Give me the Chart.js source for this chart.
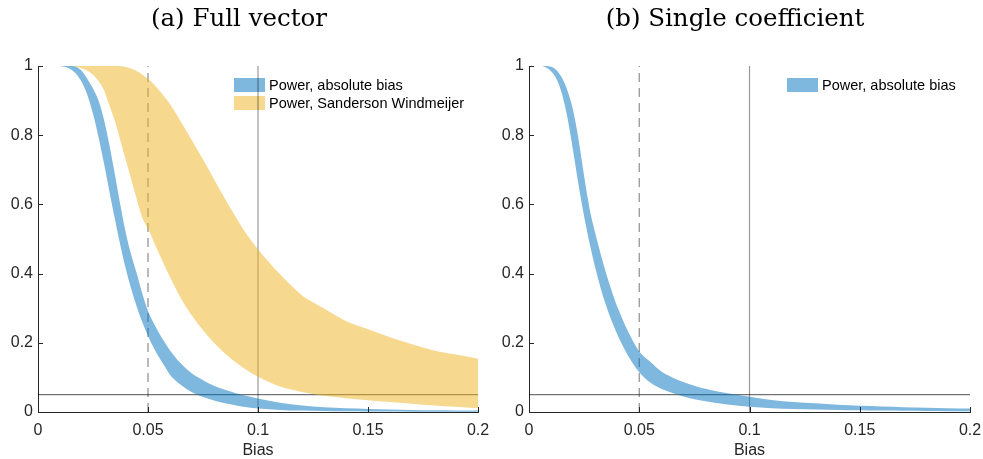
<!DOCTYPE html>
<html>
<head>
<meta charset="utf-8">
<script src="https://cdn.jsdelivr.net/npm/chart.js@4.4.0/dist/chart.umd.min.js"></script>
<style>
  html, body { margin: 0; padding: 0; background: #ffffff; }
  #wrap { position: relative; width: 983px; height: 459px; overflow: hidden; }
  #c1 { position: absolute; left: 0; top: 0; }
  #c2 { position: absolute; left: 500px; top: 0; }
</style>
</head>
<body>
<div id="wrap">
  <canvas id="c1" width="490" height="459"></canvas>
  <canvas id="c2" width="483" height="459"></canvas>
</div>
<script>
// ---------------- data ----------------
const xTickValues = [0, 0.05, 0.1, 0.15, 0.2];
const xTickLabels = ['0', '0.05', '0.1', '0.15', '0.2'];
const yTickValues = [0, 0.2, 0.4, 0.6, 0.8, 1];
const yTickLabels = ['0', '0.2', '0.4', '0.6', '0.8', '1'];

const powerThreshold = 0.05;      // horizontal reference line
const dashedBias = 0.05;          // vertical dashed reference line
const solidBias = 0.1;            // vertical solid reference line

// (a) Full vector - absolute bias band
const biasA = [0.010,0.0125,0.015,0.0175,0.020,0.0225,0.025,0.0275,0.030,0.0325,0.035,0.0375,0.040,0.0425,0.045,0.0475,0.050,0.0525,0.055,0.0575,0.060,0.065,0.070,0.075,0.080,0.085,0.090,0.095,0.100,0.110,0.120,0.130,0.140,0.150,0.160,0.170,0.180,0.190,0.200];
const absUpperA = [1,1,1,0.997,0.985,0.962,0.935,0.900,0.845,0.770,0.685,0.596,0.515,0.451,0.398,0.340,0.292,0.258,0.228,0.202,0.178,0.140,0.111,0.092,0.076,0.064,0.054,0.046,0.039,0.027,0.019,0.014,0.011,0.009,0.007,0.006,0.005,0.0045,0.004];
const absLowerA = [1,0.997,0.990,0.976,0.952,0.915,0.862,0.795,0.718,0.636,0.556,0.480,0.412,0.353,0.302,0.258,0.220,0.187,0.158,0.133,0.108,0.078,0.057,0.043,0.033,0.025,0.019,0.014,0.010,0.006,0.004,0.003,0.002,0.0015,0.0012,0.001,0.0008,0.0006,0.0005];

// (a) Full vector - Sanderson Windmeijer band
const biasSW = [0.012,0.015,0.0175,0.020,0.0225,0.025,0.0275,0.030,0.0325,0.035,0.0375,0.040,0.0425,0.045,0.0475,0.050,0.055,0.060,0.065,0.070,0.075,0.080,0.085,0.090,0.095,0.100,0.105,0.110,0.115,0.120,0.125,0.130,0.140,0.150,0.160,0.170,0.180,0.190,0.200];
const swUpper = [1,1,1,1,1,1,1,1,1,1,0.999,0.997,0.992,0.985,0.975,0.963,0.930,0.890,0.838,0.785,0.730,0.673,0.616,0.562,0.512,0.470,0.433,0.398,0.366,0.337,0.317,0.299,0.263,0.239,0.216,0.196,0.178,0.166,0.154];
const swLower = [1,0.999,0.997,0.993,0.986,0.975,0.957,0.930,0.885,0.840,0.783,0.726,0.670,0.613,0.560,0.530,0.458,0.390,0.328,0.278,0.236,0.200,0.169,0.143,0.121,0.102,0.087,0.074,0.065,0.058,0.052,0.047,0.040,0.034,0.029,0.024,0.019,0.015,0.011];

// (b) Single coefficient - absolute bias band
const biasB = [0.006,0.008,0.010,0.0125,0.015,0.0175,0.020,0.0225,0.025,0.0275,0.030,0.0325,0.035,0.0375,0.040,0.045,0.050,0.055,0.060,0.065,0.070,0.075,0.080,0.090,0.100,0.110,0.120,0.130,0.140,0.150,0.160,0.170,0.180,0.190,0.200];
const absUpperB = [1,1,0.998,0.988,0.965,0.928,0.872,0.787,0.682,0.587,0.518,0.457,0.400,0.350,0.305,0.232,0.175,0.145,0.117,0.100,0.087,0.076,0.067,0.054,0.044,0.035,0.029,0.025,0.021,0.018,0.016,0.014,0.012,0.011,0.010];
const absLowerB = [1,0.995,0.985,0.962,0.918,0.848,0.755,0.655,0.565,0.487,0.418,0.358,0.307,0.263,0.225,0.162,0.115,0.085,0.067,0.055,0.045,0.037,0.031,0.022,0.015,0.011,0.009,0.007,0.006,0.005,0.004,0.0035,0.003,0.0025,0.002];

const labelAbs = 'Power, absolute bias';
const labelSW = 'Power, Sanderson Windmeijer';
const titleA = '(a) Full vector';
const titleB = '(b) Single coefficient';
const xTitle = 'Bias';

// ---------------- styles ----------------
const BLUE = 'rgba(0,114,189,0.5)';
const YELLOW = 'rgba(237,177,32,0.5)';
const AXIS = '#262626';
const SANS = "'Liberation Sans', Arial, Helvetica, sans-serif";
const SERIF = "'DejaVu Serif', 'Liberation Serif', serif";

function pts(xs, ys) { return xs.map((x, i) => ({ x: x, y: ys[i] })); }

function bandDatasets(xs, lower, upper, color, label) {
  return [
    { data: pts(xs, lower), borderColor: 'rgba(0,0,0,0)', pointRadius: 0, fill: false, cubicInterpolationMode: 'monotone' },
    { data: pts(xs, upper), borderColor: 'rgba(0,0,0,0)', backgroundColor: color, pointRadius: 0, fill: '-1', cubicInterpolationMode: 'monotone', legendLabel: label }
  ];
}

function refDatasets() {
  return [
    { data: [{ x: 0, y: powerThreshold }, { x: 0.2, y: powerThreshold }], borderColor: 'rgba(0,0,0,0.55)', borderWidth: 1.2, pointRadius: 0, fill: false },
    { data: [{ x: dashedBias, y: 0 }, { x: dashedBias, y: 1 }], borderColor: 'rgba(0,0,0,0.45)', borderWidth: 1.2, borderDash: [9, 6], pointRadius: 0, fill: false },
    { data: [{ x: solidBias, y: 0 }, { x: solidBias, y: 1 }], borderColor: 'rgba(0,0,0,0.4)', borderWidth: 1.2, pointRadius: 0, fill: false }
  ];
}

const bandLegend = {
  id: 'bandLegend',
  beforeDatasetsDraw(chart, args, opts) {
    const ctx = chart.ctx;
    const a = chart.chartArea;
    ctx.save();
    ctx.font = '14.5px ' + SANS;
    ctx.textBaseline = 'middle';
    ctx.textAlign = 'left';
    let y = a.top + opts.offsetY;
    chart.data.datasets.forEach(ds => {
      if (!ds.legendLabel) return;
      ctx.fillStyle = ds.backgroundColor;
      ctx.fillRect(a.left + opts.offsetX, y, 31, 14);
      ctx.fillStyle = '#000000';
      ctx.fillText(ds.legendLabel, a.left + opts.offsetX + 35, y + 7.5);
      y += 18;
    });
    ctx.restore();
  }
};

const inwardTicks = {
  id: 'inwardTicks',
  afterDraw(chart) {
    const ctx = chart.ctx;
    const xs = chart.scales.x, ys = chart.scales.y;
    ctx.save();
    ctx.strokeStyle = AXIS;
    ctx.lineWidth = 1;
    ctx.beginPath();
    xs.ticks.forEach(t => {
      const px = Math.round(xs.getPixelForValue(t.value)) + 0.5;
      ctx.moveTo(px, ys.bottom); ctx.lineTo(px, ys.bottom - 5);
    });
    ys.ticks.forEach(t => {
      const py = Math.round(ys.getPixelForValue(t.value)) + 0.5;
      ctx.moveTo(xs.left, py); ctx.lineTo(xs.left + 5, py);
    });
    ctx.stroke();
    ctx.restore();
  }
};

function makeChart(canvasId, title, datasets, yWidth, rightPad, legendX) {
  return new Chart(document.getElementById(canvasId), {
    type: 'line',
    data: { datasets: datasets },
    plugins: [bandLegend, inwardTicks],
    options: {
      responsive: false,
      animation: false,
      events: [],
      layout: { padding: { left: 0, right: rightPad, top: 0, bottom: 0 } },
      plugins: {
        legend: { display: false },
        tooltip: { enabled: false },
        title: {
          display: true, text: title, color: '#000000',
          font: { family: SERIF, size: 24.5, weight: 'normal', lineHeight: 1.2 },
          padding: { top: 5.3, bottom: 31.3 }
        },
        bandLegend: { offsetX: legendX, offsetY: 12 }
      },
      scales: {
        x: {
          type: 'linear', min: 0, max: 0.2,
          afterBuildTicks: s => { s.ticks = xTickValues.map(v => ({ value: v })); },
          afterFit: s => { s.height = 47; s.paddingLeft = 0; s.paddingRight = 0; },
          grid: { display: false, drawTicks: false, tickLength: 0 },
          border: { display: true, color: AXIS, width: 1 },
          ticks: {
            callback: v => xTickLabels[xTickValues.indexOf(v)],
            font: { family: SANS, size: 16 }, color: AXIS, padding: 9,
            maxRotation: 0, autoSkip: false
          },
          title: { display: true, text: xTitle, color: AXIS, font: { family: SANS, size: 16, lineHeight: 1.1 }, padding: { top: 0, bottom: 0 } }
        },
        y: {
          type: 'linear', min: 0, max: 1,
          afterBuildTicks: s => { s.ticks = yTickValues.map(v => ({ value: v })); },
          afterFit: s => { s.width = yWidth; s.paddingTop = 0; s.paddingBottom = 0; },
          grid: { display: false, drawTicks: false, tickLength: 0 },
          border: { display: true, color: AXIS, width: 1 },
          ticks: {
            callback: v => yTickLabels[yTickValues.indexOf(v)],
            font: { family: SANS, size: 16 }, color: AXIS, padding: 5
          }
        }
      }
    }
  });
}

const dsA = [].concat(
  bandDatasets(biasA, absLowerA, absUpperA, BLUE, labelAbs),
  bandDatasets(biasSW, swLower, swUpper, YELLOW, labelSW),
  refDatasets()
);
const dsB = [].concat(
  bandDatasets(biasB, absLowerB, absUpperB, BLUE, labelAbs),
  refDatasets()
);

makeChart('c1', titleA, dsA, 38, 12, 196);
makeChart('c2', titleB, dsB, 29, 13, 258);
</script>
</body>
</html>
